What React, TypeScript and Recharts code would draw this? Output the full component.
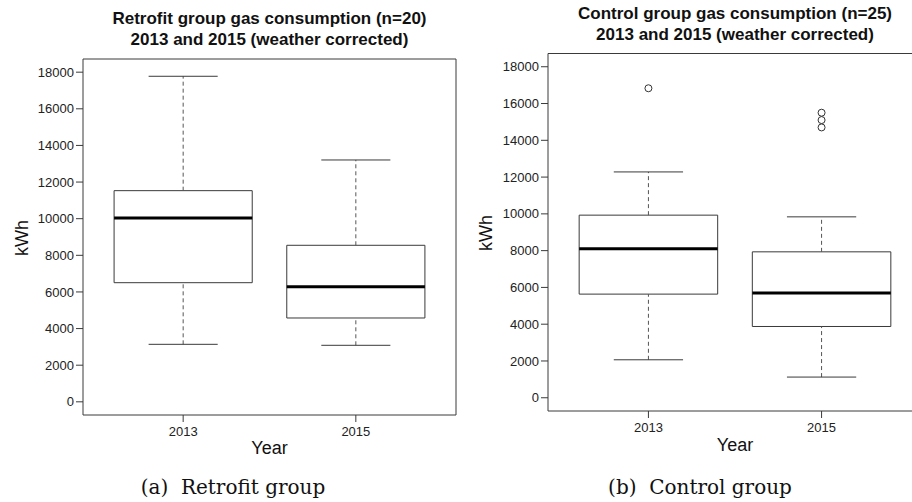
import React from "react";
import {
  ComposedChart,
  XAxis,
  YAxis,
  ReferenceArea,
  ReferenceLine,
  Scatter,
} from "recharts";

const years = ["2013", "2015"];
const yTicks = [0, 2000, 4000, 6000, 8000, 10000, 12000, 14000, 16000, 18000];

// Retrofit group (n=20)
const retrofitMin = [3140, 3086];
const retrofitQ1 = [6505, 4577];
const retrofitMedian = [10038, 6286];
const retrofitQ3 = [11530, 8547];
const retrofitMax = [17777, 13206];
const retrofitOutliers: number[][] = [[], []];

// Control group (n=25)
const controlMin = [2065, 1125];
const controlQ1 = [5636, 3875];
const controlMedian = [8100, 5690];
const controlQ3 = [9930, 7935];
const controlMax = [12280, 9837];
const controlOutliers: number[][] = [[16830], [15500, 15100, 14700]];

const X_DOMAIN: [number, number] = [0.42, 2.58];
const Y_DOMAIN: [number, number] = [-720, 18720];
const LINE = "#3a3a3a";
const SANS = "'Liberation Sans', Arial, Helvetica, sans-serif";
const SERIF = "'DejaVu Serif', 'Liberation Serif', serif";

type PanelProps = {
  left: number;
  top: number;
  width: number;
  height: number;
  margin: { top: number; left: number; right: number; bottom: number };
  mins: number[];
  q1: number[];
  med: number[];
  q3: number[];
  maxs: number[];
  outliers: number[][];
  openRight?: boolean;
};

function Panel(p: PanelProps) {
  const outlierData = p.outliers.flatMap((arr, i) =>
    arr.map((v) => ({ x: i + 1, y: v }))
  );
  const [x0, x1] = X_DOMAIN;
  const [y0, y1] = Y_DOMAIN;
  return (
    <div style={{ position: "absolute", left: p.left, top: p.top, width: p.width, height: p.height }}>
      <ComposedChart width={p.width} height={p.height} margin={p.margin}>
        <XAxis
          type="number"
          dataKey="x"
          domain={X_DOMAIN}
          ticks={[1, 2]}
          allowDataOverflow
          tickFormatter={(v: number) => years[v - 1] ?? ""}
          axisLine={false}
          tickLine={{ stroke: LINE }}
          tickSize={7}
          tickMargin={5}
          height={30}
          tick={{ fontSize: 13, fill: "#222", fontFamily: SANS }}
        />
        <YAxis
          type="number"
          dataKey="y"
          domain={Y_DOMAIN}
          ticks={yTicks}
          allowDataOverflow
          axisLine={false}
          tickLine={{ stroke: LINE }}
          tickSize={7}
          tickMargin={2}
          width={60}
          interval={0}
          tick={{ fontSize: 13, fill: "#222", fontFamily: SANS }}
        />
        {/* plot frame */}
        <ReferenceLine segment={[{ x: x0, y: y1 }, { x: x1, y: y1 }]} stroke={LINE} ifOverflow="visible" />
        <ReferenceLine segment={[{ x: x0, y: y0 }, { x: x1, y: y0 }]} stroke={LINE} ifOverflow="visible" />
        <ReferenceLine segment={[{ x: x0, y: y0 }, { x: x0, y: y1 }]} stroke={LINE} ifOverflow="visible" />
        {!p.openRight && (
          <ReferenceLine segment={[{ x: x1, y: y0 }, { x: x1, y: y1 }]} stroke={LINE} ifOverflow="visible" />
        )}
        {years.map((_, i) => {
          const x = i + 1;
          return (
            <React.Fragment key={"w" + i}>
              <ReferenceLine
                segment={[{ x, y: p.mins[i] }, { x, y: p.q1[i] }]}
                stroke="#555"
                strokeDasharray="4 3"
                ifOverflow="visible"
              />
              <ReferenceLine
                segment={[{ x, y: p.q3[i] }, { x, y: p.maxs[i] }]}
                stroke="#555"
                strokeDasharray="4 3"
                ifOverflow="visible"
              />
              <ReferenceLine
                segment={[{ x: x - 0.2, y: p.mins[i] }, { x: x + 0.2, y: p.mins[i] }]}
                stroke={LINE}
                ifOverflow="visible"
              />
              <ReferenceLine
                segment={[{ x: x - 0.2, y: p.maxs[i] }, { x: x + 0.2, y: p.maxs[i] }]}
                stroke={LINE}
                ifOverflow="visible"
              />
              <ReferenceArea
                x1={x - 0.4}
                x2={x + 0.4}
                y1={p.q1[i]}
                y2={p.q3[i]}
                fill="none"
                stroke={LINE}
                strokeWidth={1}
                ifOverflow="visible"
              />
              <ReferenceLine
                segment={[{ x: x - 0.4, y: p.med[i] }, { x: x + 0.4, y: p.med[i] }]}
                stroke="#000"
                strokeWidth={3}
                ifOverflow="visible"
              />
            </React.Fragment>
          );
        })}
        {outlierData.length > 0 && (
          <Scatter
            data={outlierData}
            dataKey="y"
            isAnimationActive={false}
            shape={(s: any) => (
              <circle cx={s.cx} cy={s.cy} r={3.5} fill="none" stroke="#333" strokeWidth={1} />
            )}
          />
        )}
      </ComposedChart>
    </div>
  );
}

function Txt(props: {
  x: number;
  y: number;
  text: string;
  size: number;
  bold?: boolean;
  family?: string;
  rotate?: boolean;
}) {
  const w = 500;
  return (
    <div
      style={{
        position: "absolute",
        left: props.x - w / 2,
        top: props.y - props.size,
        width: w,
        height: props.size * 2,
        lineHeight: props.size * 2 + "px",
        textAlign: "center",
        fontSize: props.size,
        fontWeight: props.bold ? "bold" : "normal",
        fontFamily: props.family ?? SANS,
        color: "#111",
        whiteSpace: "pre",
        transform: props.rotate ? "rotate(-90deg)" : undefined,
      }}
    >
      {props.text}
    </div>
  );
}

export default function App() {
  return (
    <div
      style={{
        position: "absolute",
        left: 0,
        top: 0,
        width: 912,
        height: 502,
        overflow: "hidden",
        background: "#fff",
      }}
    >
      <Panel
        left={0}
        top={0}
        width={470}
        height={450}
        margin={{ top: 59, left: 23, right: 14, bottom: 5 }}
        mins={retrofitMin}
        q1={retrofitQ1}
        med={retrofitMedian}
        q3={retrofitQ3}
        maxs={retrofitMax}
        outliers={retrofitOutliers}
      />
      <Panel
        left={456}
        top={0}
        width={480}
        height={446}
        margin={{ top: 53.5, left: 32, right: 14, bottom: 5 }}
        mins={controlMin}
        q1={controlQ1}
        med={controlMedian}
        q3={controlQ3}
        maxs={controlMax}
        outliers={controlOutliers}
        openRight
      />
      <Txt x={269.5} y={19} text="Retrofit group gas consumption (n=20)" size={17} bold />
      <Txt x={269.5} y={40} text="2013 and 2015 (weather corrected)" size={17} bold />
      <Txt x={735} y={14} text="Control group gas consumption (n=25)" size={17} bold />
      <Txt x={735} y={35} text="2013 and 2015 (weather corrected)" size={17} bold />
      <Txt x={22} y={238} text="kWh" size={18} rotate />
      <Txt x={486} y={233} text="kWh" size={18} rotate />
      <Txt x={269.5} y={448} text="Year" size={18} />
      <Txt x={735} y={445} text="Year" size={18} />
      <Txt x={233} y={487} text={"(a)  Retrofit group"} size={20} family={SERIF} />
      <Txt x={700} y={487} text={"(b)  Control group"} size={20} family={SERIF} />
    </div>
  );
}
